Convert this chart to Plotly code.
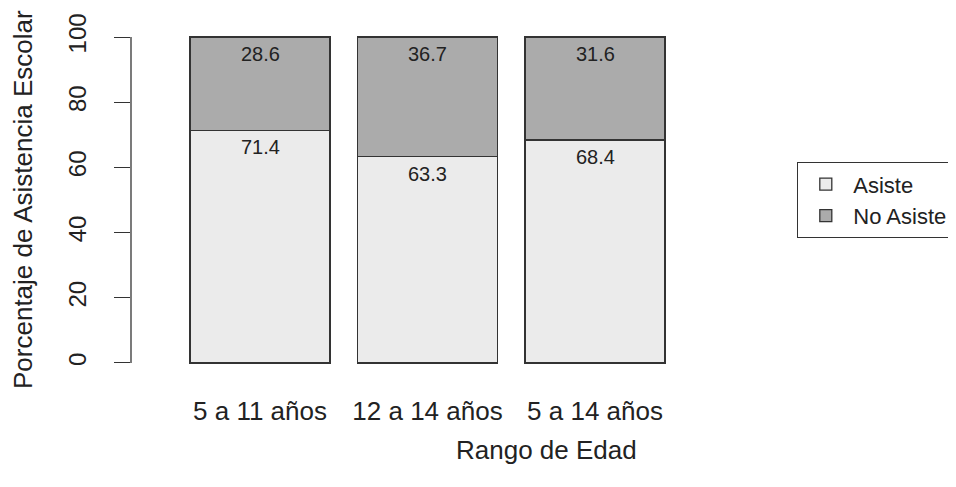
import plotly.graph_objects as go

categories = ["5 a 11 años", "12 a 14 años", "5 a 14 años"]
asiste = [71.4, 63.3, 68.4]
no_asiste = [28.6, 36.7, 31.6]
series_names = ["Asiste", "No Asiste"]
y_ticks = [0, 20, 40, 60, 80, 100]

W, H = 956, 487
OFF = 8  # page body margin offset
FONT = "Liberation Sans, Arial, Helvetica, sans-serif"
INK = "#222222"
LINE = "#333333"

L = 131 - OFF
T = 24 - OFF
PLOT_H = 352
B = H - T - PLOT_H
PLOT_W = W - L

fig = go.Figure()
fig.add_trace(go.Bar(x=categories, y=asiste, name=series_names[0],
                     marker=dict(color="#EBEBEB", line=dict(color=LINE, width=1.3))))
fig.add_trace(go.Bar(x=categories, y=no_asiste, name=series_names[1],
                     marker=dict(color="#ABABAB", line=dict(color=LINE, width=1.3))))

# value labels near the top of each segment
for c, a, n in zip(categories, asiste, no_asiste):
    fig.add_annotation(x=c, y=a, text=f"{a:.1f}", showarrow=False, yanchor="top",
                       yshift=-4, font=dict(size=20, color=INK, family=FONT))
    fig.add_annotation(x=c, y=a + n, text=f"{n:.1f}", showarrow=False, yanchor="top",
                       yshift=-4, font=dict(size=20, color=INK, family=FONT))

# y axis line (R style, only from 0 to 100)
fig.add_shape(type="line", xref="paper", yref="y", x0=0, x1=0, y0=y_ticks[0], y1=y_ticks[-1],
              line=dict(color=LINE, width=1.3))

# axis titles
fig.add_annotation(xref="paper", yref="paper", x=(546 - 131) / PLOT_W, y=-(450 - 376) / PLOT_H,
                   text="Rango de Edad", showarrow=False, xanchor="center", yanchor="middle",
                   font=dict(size=26, color=INK, family=FONT))
fig.add_annotation(xref="paper", yref="y", x=-(131 - 23) / PLOT_W, y=50,
                   text="Porcentaje de Asistencia Escolar", showarrow=False, textangle=-90,
                   xanchor="center", yanchor="middle",
                   font=dict(size=26, color=INK, family=FONT))

fig.update_layout(
    width=W, height=H,
    margin=dict(l=L, r=0, t=T, b=B, autoexpand=False),
    paper_bgcolor="white", plot_bgcolor="white",
    barmode="stack", bargap=0.164,
    showlegend=True,
    legend=dict(xref="container", yref="container", x=(797 - OFF) / W, y=1 - (162 - OFF) / H,
                xanchor="left", yanchor="top", traceorder="normal",
                itemwidth=45,
                bordercolor=LINE, borderwidth=1.3, bgcolor="white",
                font=dict(size=22, color=INK, family=FONT)),
    font=dict(family=FONT, color=INK),
)
fig.update_xaxes(range=[-129 / 167.5, (PLOT_W - 129) / 167.5], showline=False, showgrid=False,
                 zeroline=False, ticks="", ticklabelstandoff=17,
                 tickfont=dict(size=26, color=INK, family=FONT))
fig.update_yaxes(range=[-4, 104], showline=False, showgrid=False, zeroline=False,
                 tickvals=y_ticks, ticks="outside", ticklen=16, tickwidth=1.3, tickcolor=LINE,
                 tickangle=-90, ticklabelstandoff=18,
                 tickfont=dict(size=24, color=INK, family=FONT))

fig.write_html("out.html")
